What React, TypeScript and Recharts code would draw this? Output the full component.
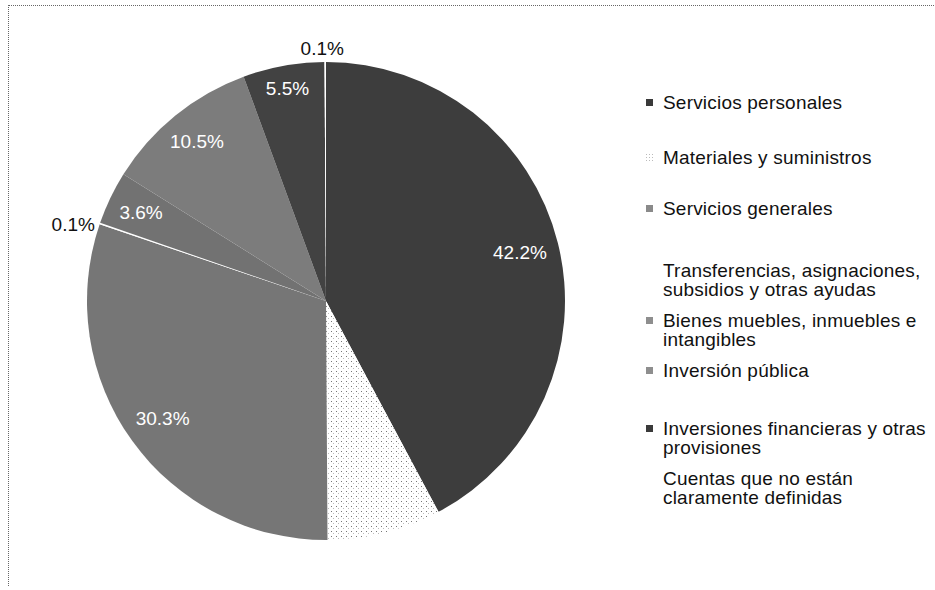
import React from "react";
import { PieChart, Pie, Cell, Legend } from "recharts";

// ---- data ----
const categories: string[] = [
  "Servicios personales",
  "Materiales y suministros",
  "Servicios generales",
  "Transferencias, asignaciones,\nsubsidios y otras ayudas",
  "Bienes muebles, inmuebles e\nintangibles",
  "Inversión pública",
  "Inversiones financieras y otras\nprovisiones",
  "Cuentas que no están\nclaramente definidas",
];
const shares: number[] = [42.2, 7.7, 30.3, 0.1, 3.6, 10.5, 5.5, 0.1];
const showLabel: boolean[] = [true, false, true, true, true, true, true, true];

// ---- styles ----
const fills: string[] = [
  "#3d3d3d",
  "url(#dotsFill)",
  "#767676",
  "#ffffff",
  "#727272",
  "#7c7c7c",
  "#424242",
  "#ffffff",
];
const markerFills: string[] = [
  "#3a3a3a",
  "url(#dotsMarker)",
  "#8a8a8a",
  "none",
  "#8e8e8e",
  "#8e8e8e",
  "#3a3a3a",
  "none",
];
const legendTops: number[] = [93, 148, 199, 261, 311, 361, 419, 469];

const FONT = "'Liberation Sans', Arial, Helvetica, sans-serif";
const RAD = Math.PI / 180;
const LABEL_SIZE = 19;

const data = categories.map((name, i) => ({ name, value: shares[i] }));

const textWidth = (s: string) =>
  s.split("").reduce((w, ch) => w + (ch === "." ? 0.278 : ch === "%" ? 0.889 : 0.556), 0) * LABEL_SIZE;

const renderLabel = (props: any) => {
  const { cx, cy, midAngle, outerRadius, index, value } = props;
  if (!showLabel[index]) return null;
  const text = `${Number(value).toFixed(1)}%`;
  const cos = Math.cos(-midAngle * RAD);
  const sin = Math.sin(-midAngle * RAD);
  if (value < 0.5) {
    const ex = cx + outerRadius * cos;
    const ey = cy + outerRadius * sin;
    if (Math.abs(cos) < 0.2) {
      return (
        <text x={ex - 3} y={ey - 14} fill="#111" fontSize={LABEL_SIZE} fontFamily={FONT}
          textAnchor="middle" dominantBaseline="central">{text}</text>
      );
    }
    return (
      <text x={cos < 0 ? ex - 5 : ex + 5} y={ey + 1} fill="#111" fontSize={LABEL_SIZE} fontFamily={FONT}
        textAnchor={cos < 0 ? "end" : "start"} dominantBaseline="central">{text}</text>
    );
  }
  const hw = textWidth(text) / 2;
  const hh = 8;
  const r = outerRadius - 11 - (Math.abs(cos) * hw + Math.abs(sin) * hh);
  return (
    <text x={cx + r * cos} y={cy + r * sin} fill="#ffffff" fontSize={LABEL_SIZE} fontFamily={FONT}
      textAnchor="middle" dominantBaseline="central">{text}</text>
  );
};

const LegendContent = () => (
  <div style={{ position: "relative", width: 295, height: 590, fontFamily: FONT }}>
    {categories.map((name, i) => (
      <div key={i} style={{ position: "absolute", left: 0, top: legendTops[i], width: 295 }}>
        <svg width={10} height={10} style={{ position: "absolute", left: 5, top: 5 }}>
          {markerFills[i] !== "none" && <rect x={1} y={1} width={7} height={7} fill={markerFills[i]} />}
        </svg>
        <div style={{ position: "absolute", left: 23, top: 0, fontSize: 19, lineHeight: "19px",
          color: "#111", whiteSpace: "pre", letterSpacing: "0.2px" }}>{name}</div>
      </div>
    ))}
  </div>
);

export default function App() {
  return (
    <div style={{ position: "absolute", left: 0, top: 0, width: 935, height: 590, background: "#fff" }}>
      <svg width={0} height={0} style={{ position: "absolute" }}>
        <defs>
          <pattern id="dotsFill" width={5} height={5} patternUnits="userSpaceOnUse">
            <rect width={5} height={5} fill="#ffffff" />
            <rect x={1} y={1} width={1} height={1} fill="#777" />
            <rect x={3} y={3} width={1} height={1} fill="#bbb" />
          </pattern>
          <pattern id="dotsMarker" width={3} height={3} patternUnits="userSpaceOnUse">
            <rect width={3} height={3} fill="#ffffff" />
            <rect x={1} y={1} width={1} height={1} fill="#bbb" />
          </pattern>
        </defs>
      </svg>
      <div style={{ position: "absolute", left: 8, top: 5, width: 927, height: 580,
        borderTop: "1px dotted #666", borderLeft: "1px dotted #666" }} />
      <div style={{ position: "absolute", left: 0, top: 0 }}>
        <PieChart width={935} height={590} margin={{ top: 0, right: 0, bottom: 0, left: 0 }}>
          <Pie
            data={data}
            dataKey="value"
            nameKey="name"
            cx={326}
            cy={301}
            outerRadius={239}
            startAngle={90}
            endAngle={-270}
            stroke="none"
            label={renderLabel}
            labelLine={false}
            isAnimationActive={false}
          >
            {data.map((_, i) => (
              <Cell key={i} fill={fills[i]} stroke="none" />
            ))}
          </Pie>
          <Legend
            layout="vertical"
            align="right"
            verticalAlign="top"
            content={<LegendContent />}
            wrapperStyle={{ left: 640, top: 0, width: 295, height: 590 }}
          />
        </PieChart>
      </div>
    </div>
  );
}
